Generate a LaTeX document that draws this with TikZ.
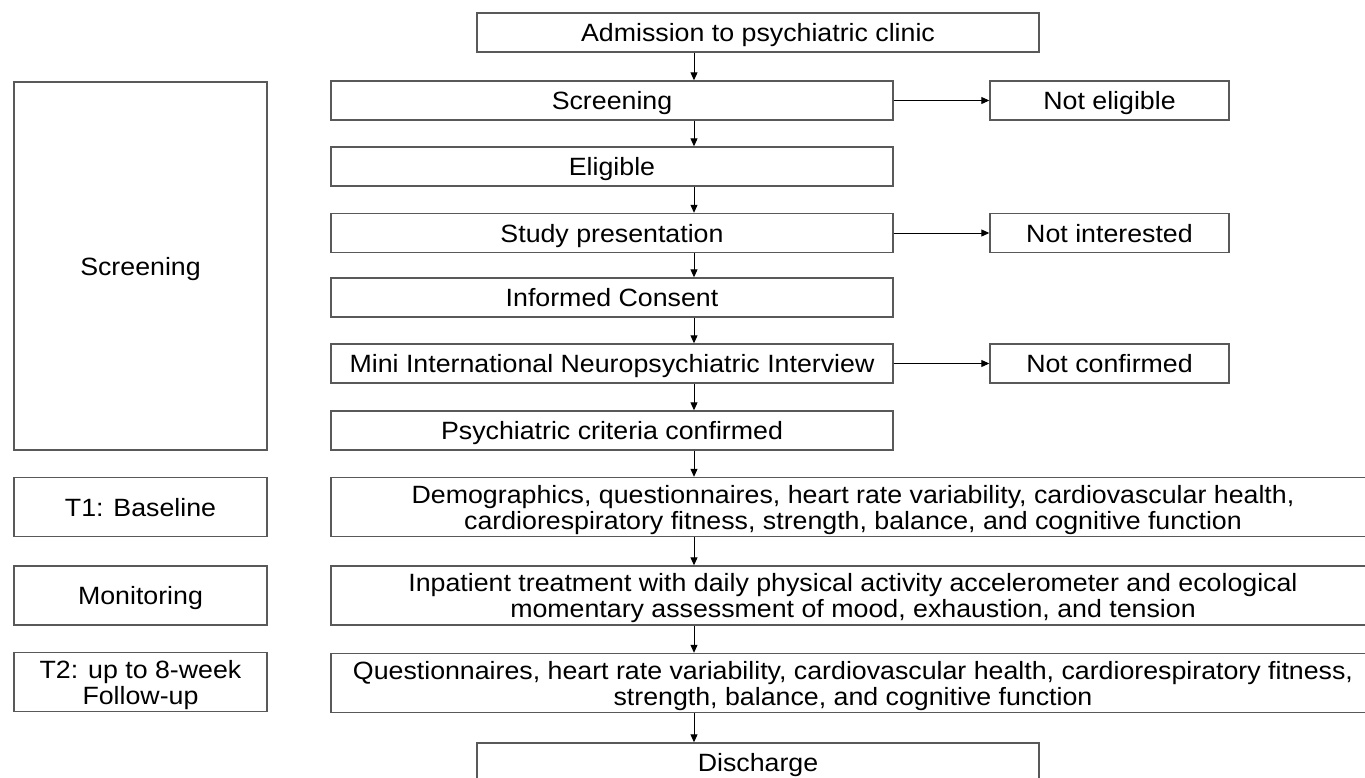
\documentclass[tikz,border=0pt]{standalone}
\usepackage{fontspec}
\setmainfont{Liberation Sans}[FakeStretch=1.07]
\usetikzlibrary{arrows.meta}

\begin{document}
\begin{tikzpicture}[x=1pt,y=1pt,font=\fontsize{25}{26}\selectfont]
	\tikzstyle{B} = [draw=black!65,line width=1.4pt,fill=white,minimum width=562pt,minimum height=39pt,inner sep=2pt,align=center,text depth=0pt]
	\tikzstyle{Bw} = [B,minimum width=1044pt,minimum height=59pt]
	\tikzstyle{Bs} = [B,minimum width=239pt]
	\tikzstyle{Bl} = [B,minimum width=253pt,minimum height=59pt]
	\tikzstyle{A} = [-{Triangle[length=8pt,width=7pt]},line width=1pt,color=black]
	\useasboundingbox (0,0) rectangle (1365,-777);
	\coordinate (spine) at (694,0);
	% main flow
	\node[B](adm) at (758,-32.5) {Admission to psychiatric clinic};
	\node[B,below of=adm,node distance=68pt,xshift=-146pt](scr) {Screening};
	\node[B,below of=scr,node distance=66pt](elig) {Eligible};
	\node[B,below of=elig,node distance=66.5pt](pres) {Study presentation};
	\node[B,below of=pres,node distance=64.5pt](cons) {Informed Consent};
	\node[B,below of=cons,node distance=66pt](mini) {Mini International Neuropsychiatric Interview};
	\node[B,below of=mini,node distance=67pt](crit) {Psychiatric criteria confirmed};
	\node[Bw,below of=crit,node distance=76.5pt,xshift=241pt](base) {Demographics, questionnaires, heart rate variability, cardiovascular health,\\ cardiorespiratory fitness, strength, balance, and cognitive function};
	\node[Bw,below of=base,node distance=88.5pt](treat) {Inpatient treatment with daily physical activity accelerometer and ecological\\ momentary assessment of mood, exhaustion, and tension};
	\node[Bw,below of=treat,node distance=87.5pt](follow) {Questionnaires, heart rate variability, cardiovascular health, cardiorespiratory fitness,\\ strength, balance, and cognitive function};
	\node[B,below of=follow,node distance=79.5pt,xshift=-95pt](dis) {Discharge};
	% drop outs
	\node[Bs,right of=scr,node distance=497.5pt](noel) {Not eligible};
	\node[Bs,right of=pres,node distance=497.5pt](noint) {Not interested};
	\node[Bs,right of=mini,node distance=497.5pt](noconf) {Not confirmed};
	% phases
	\node[Bl,minimum height=368pt](phscr) at (140.5,-266) {Screening};
	\node[Bl,below of=phscr,node distance=241pt](phT1) {T1: Baseline};
	\node[Bl,below of=phT1,node distance=88.5pt](phmon) {Monitoring};
	\node[Bl,below of=phmon,node distance=86.5pt](phT2) {T2: up to 8-week\\ Follow-up};
	% arrows
	\draw[A](adm.south -| spine) to (scr.north -| spine);
	\draw[A](scr.south -| spine) to (elig.north -| spine);
	\draw[A](elig.south -| spine) to (pres.north -| spine);
	\draw[A](pres.south -| spine) to (cons.north -| spine);
	\draw[A](cons.south -| spine) to (mini.north -| spine);
	\draw[A](mini.south -| spine) to (crit.north -| spine);
	\draw[A](crit.south -| spine) to (base.north -| spine);
	\draw[A](base.south -| spine) to (treat.north -| spine);
	\draw[A](treat.south -| spine) to (follow.north -| spine);
	\draw[A](follow.south -| spine) to (dis.north -| spine);
	\draw[A](scr) to (noel);
	\draw[A](pres) to (noint);
	\draw[A](mini) to (noconf);
\end{tikzpicture}
\end{document}
